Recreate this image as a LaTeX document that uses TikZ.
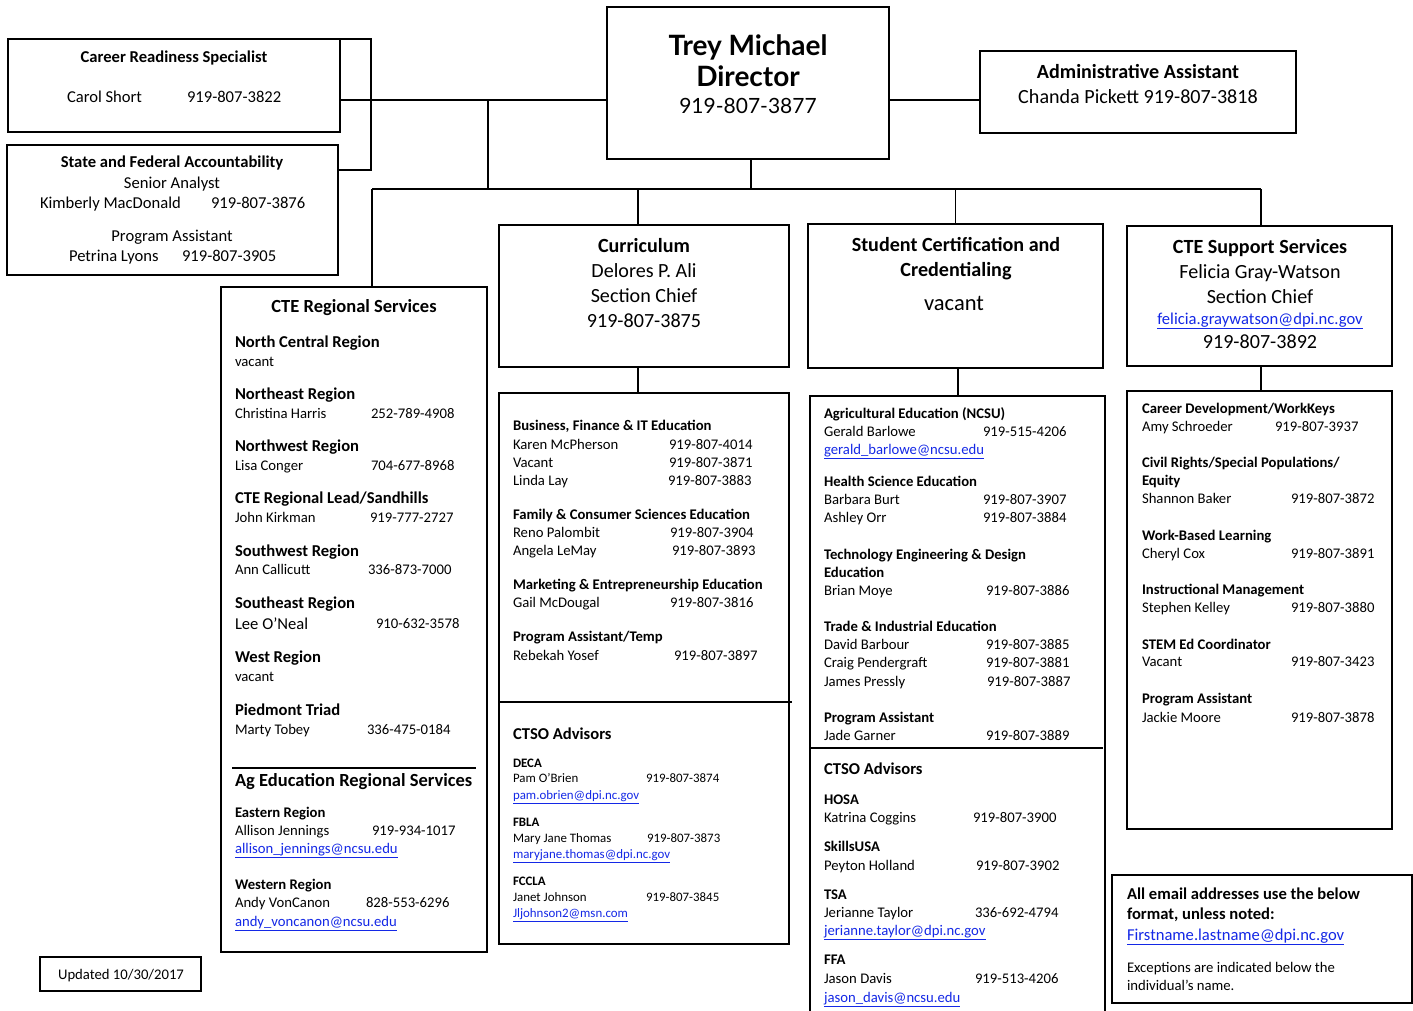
\documentclass[tikz,border=0pt]{standalone}
\usepackage{fontspec}
\setmainfont{Carlito}
\newfontfamily\gillf{Lato}
\definecolor{linkblue}{RGB}{20,40,230}
\newcounter{tn}
\newcommand\tx[4]{\stepcounter{tn}\node[#1] (t\arabic{tn}) at (#2,#3) {#4};}
\newcommand\rw[6]{\tx{#1}{#2}{#4}{#5}\tx{#1}{#3}{#4}{#6}}
\newcommand\lk[1]{\textcolor{linkblue}{\underline{#1}}}
\tikzset{
 L/.style={anchor=base west, inner sep=0pt, outer sep=0pt},
 C/.style={anchor=base, inner sep=0pt, outer sep=0pt},
 r147/.style={font=\fontsize{14.7}{17}\selectfont, yshift=-5.4pt},
 b147/.style={font=\bfseries\fontsize{14.7}{17}\selectfont, yshift=-5.4pt},
 r129/.style={font=\fontsize{12.9}{15}\selectfont, yshift=-4.8pt},
 b129/.style={font=\bfseries\fontsize{12.9}{15}\selectfont, yshift=-4.8pt},
 r166/.style={font=\fontsize{16.6}{19}\selectfont, yshift=-6pt},
 b166/.style={font=\bfseries\fontsize{16.6}{19}\selectfont, yshift=-6pt},
 b185/.style={font=\bfseries\fontsize{18.5}{21}\selectfont, yshift=-6.6pt},
 r201/.style={font=\fontsize{20.1}{23}\selectfont, yshift=-7.1pt},
 b201/.style={font=\bfseries\fontsize{20.1}{23}\selectfont, yshift=-7.1pt},
 r225/.style={font=\fontsize{22.5}{25}\selectfont, yshift=-7.8pt},
 dirn/.style={font=\gillf\bfseries\fontsize{28}{30}\selectfont, yshift=-10pt},
 dirp/.style={font=\gillf\fontsize{21}{24}\selectfont, yshift=-8pt},
 box/.style={draw, line width=1.3pt, inner sep=0pt, outer sep=0pt, anchor=north west},
 ln/.style={line width=1.3pt},
}
\begin{document}
\begin{tikzpicture}[x=1pt,y=-1pt]
\useasboundingbox[fill=white] (0,0) rectangle (1413,1011);
% boxes
\node[box, minimum width=332pt, minimum height=93pt] (crs) at (8,39) {};
\node[box, minimum width=331pt, minimum height=130pt] (saf) at (7,145) {};
\node[box, minimum width=282pt, minimum height=152pt] (dir) at (607,7) {};
\node[box, minimum width=316pt, minimum height=82pt] (adm) at (980,51) {};
\node[box, minimum width=266pt, minimum height=665pt] (reg) at (221,287) {};
\node[box, minimum width=290pt, minimum height=142pt] (cur) at (499,225) {};
\node[box, minimum width=290pt, minimum height=551pt] (curl) at (499,393) {};
\node[box, minimum width=295pt, minimum height=144pt] (sc) at (808,224) {};
\node[inner sep=0pt, outer sep=0pt, minimum width=295pt, minimum height=615pt, anchor=north west] (scl) at (810,396) {};
\draw[ln] (scl.south west) -- (scl.north west) -- (scl.north east) -- (scl.south east);
\node[box, minimum width=265pt, minimum height=140pt] (sup) at (1127,226) {};
\node[box, minimum width=265pt, minimum height=438pt] (supl) at (1127,391) {};
\node[box, minimum width=300pt, minimum height=128pt] (note) at (1112,875) {};
\node[box, minimum width=161pt, minimum height=34pt] (upd) at (40,957) {};
% connectors
\coordinate (j1) at (371,100);
\coordinate (bk) at (371,170);
\coordinate (j2) at (488,100);
\coordinate (bl) at (372,189);
\coordinate (br) at (1261,189);
\coordinate (bj) at (488,189);
\coordinate (dj) at (751,189);
\coordinate (cj) at (638,189);
\coordinate (cl) at (638,380);
\coordinate (sj) at (958,380);
\draw[ln] (crs.east |- j1) -- (dir.west |- j1);
\draw[ln] (crs.north east) -| (bk) -- (saf.east |- bk);
\draw[ln] (j2) -- (bj);
\draw[ln] (dir.south -| dj) -- (dj);
\draw[ln] (bl) -- (br);
\draw[ln] (bl) -- (bl |- reg.north);
\draw[ln] (cj) -- (cj |- cur.north);
\draw[ln] (sc.north |- bl) -- (sc.north);
\draw[ln] (br) -- (br |- sup.north);
\draw[ln] (cl |- cur.south) -- (cl |- curl.north);
\draw[ln] (sj |- sc.south) -- (sj |- scl.north);
\draw[ln] (br |- sup.south) -- (br |- supl.north);
\draw[ln] (dir.east |- j1) -- (adm.west |- j1);
% dividers
\coordinate (d1) at (232,768);
\coordinate (d2) at (476,768);
\draw[ln] (d1) -- (d2);
\coordinate (d3) at (792,702);
\draw[ln] (curl.west |- d3) -- (d3);
\coordinate (d4) at (1103,748);
\draw[ln] (scl.west |- d4) -- (d4);
% top-left boxes
\tx{C,b166}{174}{57}{Career Readiness Specialist}
\rw{L,r166}{67}{187}{97}{Carol Short}{919-807-3822}
\tx{C,b166}{172}{162}{State and Federal Accountability}
\tx{C,r166}{172}{183}{Senior Analyst}
\rw{L,r166}{40}{211}{203}{Kimberly MacDonald}{919-807-3876}
\tx{C,r166}{172}{235}{Program Assistant}
\rw{L,r166}{69}{182}{255}{Petrina Lyons}{919-807-3905}
% director
\tx{C,dirn}{748}{46}{Trey Michael}
\tx{C,dirn}{748}{77}{Director}
\tx{C,dirp}{748}{106}{919-807-3877}
% admin
\tx{C,b201}{1138}{71}{Administrative Assistant}
\tx{C,r201}{1138}{96}{Chanda Pickett 919-807-3818}
% regional
\tx{C,b185}{354}{306}{CTE Regional Services}
\tx{L,b166}{235}{341}{North Central Region}
\tx{L,r147}{235}{361}{vacant}
\tx{L,b166}{235}{393}{Northeast Region}
\rw{L,r147}{235}{371}{413}{Christina Harris}{252-789-4908}
\tx{L,b166}{235}{445}{Northwest Region}
\rw{L,r147}{235}{371}{465}{Lisa Conger}{704-677-8968}
\tx{L,b166}{235}{497}{CTE Regional Lead/Sandhills}
\rw{L,r147}{235}{370}{517}{John Kirkman}{919-777-2727}
\tx{L,b166}{235}{550}{Southwest Region}
\rw{L,r147}{235}{368}{569}{Ann Callicutt}{336-873-7000}
\tx{L,b166}{235}{602}{Southeast Region}
\tx{L,r166}{235}{623}{Lee O’Neal}
\tx{L,r147}{376}{623}{910-632-3578}
\tx{L,b166}{235}{656}{West Region}
\tx{L,r147}{235}{676}{vacant}
\tx{L,b166}{235}{709}{Piedmont Triad}
\rw{L,r147}{235}{367}{729}{Marty Tobey}{336-475-0184}
\tx{L,b185}{235}{780}{Ag Education Regional Services}
\tx{L,b147}{235}{812}{Eastern Region}
\rw{L,r147}{235}{372}{830}{Allison Jennings}{919-934-1017}
\tx{L,r147}{235}{848}{\lk{allison\_jennings@ncsu.edu}}
\tx{L,b147}{235}{884}{Western Region}
\rw{L,r147}{235}{366}{902}{Andy VonCanon}{828-553-6296}
\tx{L,r147}{235}{921}{\lk{andy\_voncanon@ncsu.edu}}
% curriculum
\tx{C,b201}{644}{245}{Curriculum}
\tx{C,r201}{644}{270}{Delores P. Ali}
\tx{C,r201}{644}{295}{Section Chief}
\tx{C,r201}{644}{320}{919-807-3875}
\tx{L,b147}{513}{425}{Business, Finance \& IT Education}
\rw{L,r147}{513}{669}{444}{Karen McPherson}{919-807-4014}
\rw{L,r147}{513}{669}{462}{Vacant}{919-807-3871}
\rw{L,r147}{513}{668}{480}{Linda Lay}{919-807-3883}
\tx{L,b147}{513}{514}{Family \& Consumer Sciences Education}
\rw{L,r147}{513}{670}{532}{Reno Palombit}{919-807-3904}
\rw{L,r147}{513}{672}{550}{Angela LeMay}{919-807-3893}
\tx{L,b147}{513}{584}{Marketing \& Entrepreneurship Education}
\rw{L,r147}{513}{670}{602}{Gail McDougal}{919-807-3816}
\tx{L,b147}{513}{636}{Program Assistant/Temp}
\rw{L,r147}{513}{674}{655}{Rebekah Yosef}{919-807-3897}
\tx{L,b166}{513}{733}{CTSO Advisors}
\tx{L,b129}{513}{763}{DECA}
\rw{L,r129}{513}{646}{778}{Pam O’Brien}{919-807-3874}
\tx{L,r129}{513}{795}{\lk{pam.obrien@dpi.nc.gov}}
\tx{L,b129}{513}{822}{FBLA}
\rw{L,r129}{513}{647}{838}{Mary Jane Thomas}{919-807-3873}
\tx{L,r129}{513}{854}{\lk{maryjane.thomas@dpi.nc.gov}}
\tx{L,b129}{513}{881}{FCCLA}
\rw{L,r129}{513}{646}{897}{Janet Johnson}{919-807-3845}
\tx{L,r129}{513}{913}{\lk{Jljohnson2@msn.com}}
% student certification
\tx{C,b201}{956}{244}{Student Certification and}
\tx{C,b201}{956}{269}{Credentialing}
\tx{C,r225}{954}{303}{vacant}
\tx{L,b147}{824}{413}{Agricultural Education (NCSU)}
\rw{L,r147}{824}{983}{431}{Gerald Barlowe}{919-515-4206}
\tx{L,r147}{824}{449}{\lk{gerald\_barlowe@ncsu.edu}}
\tx{L,b147}{824}{481}{Health Science Education}
\rw{L,r147}{824}{983}{499}{Barbara Burt}{919-807-3907}
\rw{L,r147}{824}{983}{517}{Ashley Orr}{919-807-3884}
\tx{L,b147}{824}{554}{Technology Engineering \& Design}
\tx{L,b147}{824}{572}{Education}
\rw{L,r147}{824}{986}{590}{Brian Moye}{919-807-3886}
\tx{L,b147}{824}{626}{Trade \& Industrial Education}
\rw{L,r147}{824}{986}{644}{David Barbour}{919-807-3885}
\rw{L,r147}{824}{986}{662}{Craig Pendergraft}{919-807-3881}
\rw{L,r147}{824}{987}{681}{James Pressly}{919-807-3887}
\tx{L,b147}{824}{717}{Program Assistant}
\rw{L,r147}{824}{986}{735}{Jade Garner}{919-807-3889}
\tx{L,b166}{824}{768}{CTSO Advisors}
\tx{L,b147}{824}{799}{HOSA}
\rw{L,r147}{824}{973}{817}{Katrina Coggins}{919-807-3900}
\tx{L,b147}{824}{846}{SkillsUSA}
\rw{L,r147}{824}{976}{865}{Peyton Holland}{919-807-3902}
\tx{L,b147}{824}{894}{TSA}
\rw{L,r147}{824}{975}{912}{Jerianne Taylor}{336-692-4794}
\tx{L,r147}{824}{930}{\lk{jerianne.taylor@dpi.nc.gov}}
\tx{L,b147}{824}{959}{FFA}
\rw{L,r147}{824}{975}{978}{Jason Davis}{919-513-4206}
\tx{L,r147}{824}{997}{\lk{jason\_davis@ncsu.edu}}
% support
\tx{C,b201}{1260}{246}{CTE Support Services}
\tx{C,r201}{1260}{271}{Felicia Gray-Watson}
\tx{C,r201}{1260}{296}{Section Chief}
\tx{C,r166}{1260}{318}{\lk{felicia.graywatson@dpi.nc.gov}}
\tx{C,r201}{1260}{341}{919-807-3892}
\tx{L,b147}{1142}{408}{Career Development/WorkKeys}
\rw{L,r147}{1142}{1275}{426}{Amy Schroeder}{919-807-3937}
\tx{L,b147}{1142}{462}{Civil Rights/Special Populations/}
\tx{L,b147}{1142}{480}{Equity}
\rw{L,r147}{1142}{1291}{498}{Shannon Baker}{919-807-3872}
\tx{L,b147}{1142}{535}{Work-Based Learning}
\rw{L,r147}{1142}{1291}{553}{Cheryl Cox}{919-807-3891}
\tx{L,b147}{1142}{589}{Instructional Management}
\rw{L,r147}{1142}{1291}{607}{Stephen Kelley}{919-807-3880}
\tx{L,b147}{1142}{644}{STEM Ed Coordinator}
\rw{L,r147}{1142}{1291}{661}{Vacant}{919-807-3423}
\tx{L,b147}{1142}{698}{Program Assistant}
\rw{L,r147}{1142}{1291}{717}{Jackie Moore}{919-807-3878}
% note
\tx{L,b166}{1127}{893}{All email addresses use the below}
\tx{L,b166}{1127}{913}{format, unless noted:}
\tx{L,r166}{1127}{934}{\lk{Firstname.lastname@dpi.nc.gov}}
\tx{L,r147}{1127}{967}{Exceptions are indicated below the}
\tx{L,r147}{1127}{985}{individual’s name.}
% updated
\tx{C,r147}{121}{974}{Updated 10/30/2017}
\end{tikzpicture}
\end{document}
